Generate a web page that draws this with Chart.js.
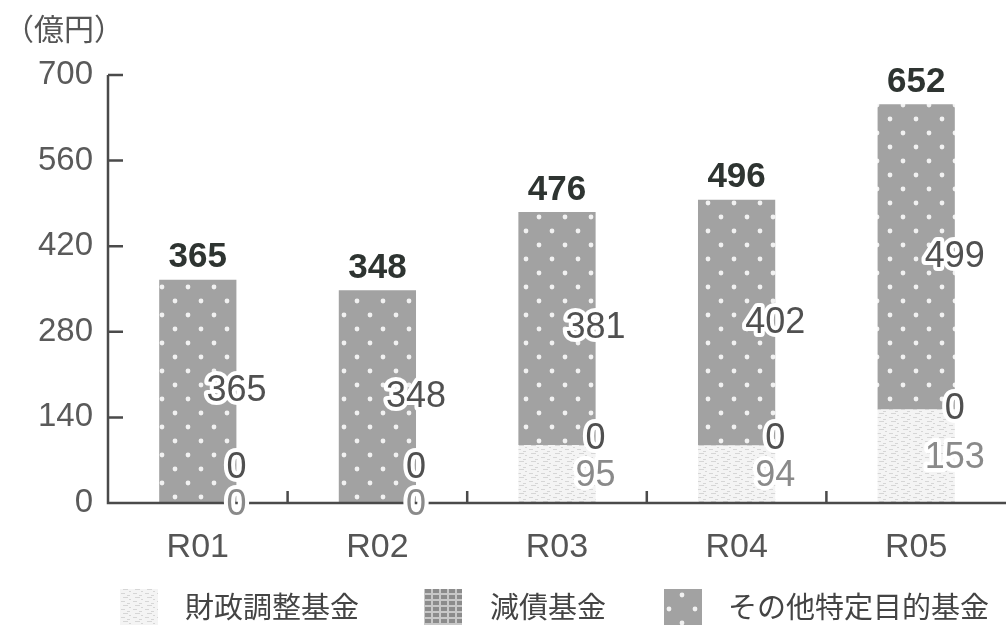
<!doctype html>
<html>
<head>
<meta charset="utf-8">
<title>基金残高の推移</title>
<script src="https://cdn.jsdelivr.net/npm/chart.js@4.4.0/dist/chart.umd.min.js"></script>
<style>
  html, body { margin: 0; padding: 0; background: #fff; }
  #wrap { width: 1006px; height: 627px; }
</style>
</head>
<body>
<div id="wrap"><canvas id="canvas" width="1006" height="627"></canvas></div>
<script>
const years = ['R01', 'R02', 'R03', 'R04', 'R05'];
const zaiseiChosei = [0, 0, 95, 94, 153];      // 財政調整基金
const gensai = [0, 0, 0, 0, 0];                // 減債基金
const sonotaTokutei = [365, 348, 381, 402, 499]; // その他特定目的基金
const seriesNames = ['財政調整基金', '減債基金', 'その他特定目的基金'];
const yTicks = [0, 140, 280, 420, 560, 700];
const unitLabel = '（億円）';

const totals = years.map((_, i) => zaiseiChosei[i] + gensai[i] + sonotaTokutei[i]);

const numFont = '"Liberation Sans", Arial, sans-serif';
const jpFont = '"Noto Sans CJK JP", "Noto Sans", sans-serif';

// fill patterns
function makePattern(w, h, draw) {
	const c = document.createElement('canvas');
	c.width = w;
	c.height = h;
	draw(c.getContext('2d'));
	return document.getElementById('canvas').getContext('2d').createPattern(c, 'repeat');
}

const dotFill = makePattern(26, 28, (g) => {
	g.fillStyle = '#a2a2a2';
	g.fillRect(0, 0, 26, 28);
	g.fillStyle = 'rgba(245,245,245,0.95)';
	[[6, 7], [19, 21]].forEach(([x, y]) => {
		g.beginPath();
		g.arc(x, y, 2.4, 0, Math.PI * 2);
		g.fill();
	});
});

const lightFill = makePattern(12, 8, (g) => {
	g.fillStyle = '#f4f4f4';
	g.fillRect(0, 0, 12, 8);
	g.fillStyle = '#d6d6d6';
	g.fillRect(1, 1, 4, 1);
	g.fillRect(7, 3, 3, 1);
	g.fillRect(3, 5, 5, 1);
	g.fillRect(9, 7, 2, 1);
});

const gridFill = makePattern(8, 6, (g) => {
	g.fillStyle = '#c8c8c8';
	g.fillRect(0, 0, 8, 6);
	g.fillStyle = '#8c8c8c';
	g.fillRect(1, 1, 6, 4);
});

const fills = [lightFill, gridFill, dotFill];
const labelColors = ['#8a8a8a', '#505050', '#505050'];

// axis lines and inward ticks
const axesPlugin = {
	id: 'axesPlugin',
	afterDatasetsDraw(chart) {
		const { ctx, chartArea, scales } = chart;
		const x0 = chartArea.left, y0 = chartArea.bottom;
		ctx.save();
		ctx.strokeStyle = '#4a4a4a';
		ctx.lineWidth = 2.5;
		ctx.beginPath();
		ctx.moveTo(x0, chartArea.top);
		ctx.lineTo(x0, y0);
		ctx.lineTo(chartArea.right, y0);
		yTicks.forEach((v) => {
			if (v === 0) return;
			const y = scales.y.getPixelForValue(v);
			ctx.moveTo(x0, y);
			ctx.lineTo(x0 + 15, y);
		});
		for (let i = 0; i < years.length - 1; i++) {
			const x = (scales.x.getPixelForValue(i) + scales.x.getPixelForValue(i + 1)) / 2;
			ctx.moveTo(x, y0);
			ctx.lineTo(x, y0 - 12);
		}
		ctx.stroke();
		ctx.restore();
	}
};

function haloText(ctx, text, x, y, color) {
	ctx.lineJoin = 'round';
	ctx.strokeStyle = '#ffffff';
	ctx.lineWidth = 8;
	ctx.strokeText(text, x, y);
	ctx.fillStyle = color;
	ctx.fillText(text, x, y);
}

// segment values at the right edge of each bar, totals above
const valueLabels = {
	id: 'valueLabels',
	afterDatasetsDraw(chart) {
		const ctx = chart.ctx;
		ctx.save();
		ctx.textAlign = 'center';
		ctx.textBaseline = 'middle';
		years.forEach((_, i) => {
			let prevY = null;
			chart.data.datasets.forEach((ds, d) => {
				const bar = chart.getDatasetMeta(d).data[i];
				let y = (bar.y + bar.base) / 2;
				if (d === 0) y += 2;
				if (prevY !== null) y = Math.min(y, prevY - 37);
				prevY = y;
				ctx.font = '36px ' + numFont;
				haloText(ctx, String(ds.data[i]), bar.x + bar.width / 2, y, labelColors[d]);
			});
			const top = chart.getDatasetMeta(2).data[i];
			ctx.font = 'bold 35px ' + numFont;
			ctx.fillStyle = '#2e3431';
			ctx.fillText(String(totals[i]), top.x, top.y - 22);
		});
		ctx.restore();
	}
};

// unit caption and legend
const decorations = {
	id: 'decorations',
	afterDraw(chart) {
		const ctx = chart.ctx;
		ctx.save();
		ctx.textBaseline = 'middle';
		ctx.textAlign = 'left';
		ctx.fillStyle = '#555';
		ctx.font = '30px ' + jpFont;
		ctx.fillText(unitLabel, 4, 29);

		const boxes = [[120, 185], [424, 490], [664, 728]];
		ctx.font = '29px ' + jpFont;
		seriesNames.forEach((name, d) => {
			const [bx, tx] = boxes[d];
			ctx.fillStyle = fills[d];
			ctx.fillRect(bx, 589, 38, 36);
			ctx.fillStyle = '#444';
			ctx.fillText(name, tx, 607);
		});
		ctx.restore();
	}
};

const config = {
	type: 'bar',
	data: {
		labels: years,
		datasets: [
			{ label: seriesNames[0], data: zaiseiChosei, backgroundColor: fills[0] },
			{ label: seriesNames[1], data: gensai, backgroundColor: fills[1] },
			{ label: seriesNames[2], data: sonotaTokutei, backgroundColor: fills[2] }
		]
	},
	options: {
		responsive: false,
		animation: false,
		layout: { padding: { top: 75, right: 0, bottom: 0, left: 0 } },
		datasets: {
			bar: { categoryPercentage: 1, barPercentage: 0.43, borderWidth: 0 }
		},
		scales: {
			x: {
				stacked: true,
				grid: { display: false, drawTicks: false },
				border: { display: false },
				ticks: {
					font: { family: numFont, size: 34 },
					color: '#555',
					padding: 24
				},
				afterFit(scale) { scale.height = 124; }
			},
			y: {
				stacked: true,
				min: 0,
				max: 700,
				grid: { display: false, drawTicks: false },
				border: { display: false },
				afterBuildTicks(scale) { scale.ticks = yTicks.map((v) => ({ value: v })); },
				ticks: {
					font: { family: numFont, size: 33 },
					color: '#5a5a5a',
					padding: 15
				},
				afterFit(scale) { scale.width = 108; }
			}
		},
		plugins: {
			legend: { display: false },
			tooltip: { enabled: false }
		}
	},
	plugins: [axesPlugin, valueLabels, decorations]
};

window.onload = function() {
	const ctx = document.getElementById('canvas').getContext('2d');
	window.myChart = new Chart(ctx, config);
};
</script>
</body>
</html>
